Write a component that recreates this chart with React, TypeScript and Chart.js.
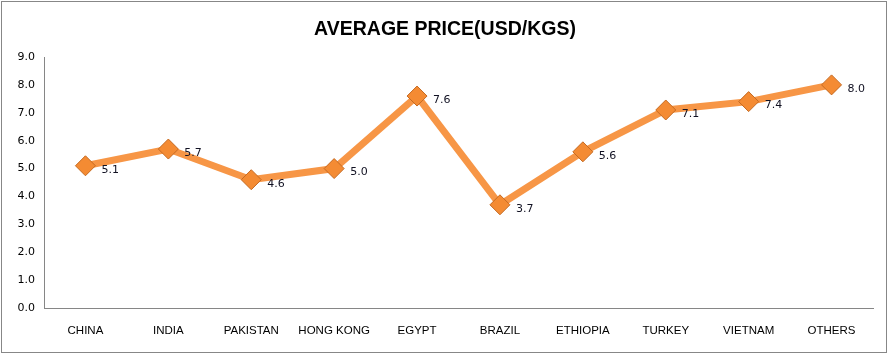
import React, { useEffect, useRef } from "react";
import { Chart, registerables } from "chart.js";

Chart.register(...registerables);

const categories = ["CHINA", "INDIA", "PAKISTAN", "HONG KONG", "EGYPT", "BRAZIL", "ETHIOPIA", "TURKEY", "VIETNAM", "OTHERS"];
const prices = [5.1, 5.7, 4.6, 5.0, 7.6, 3.7, 5.6, 7.1, 7.4, 8.0];
const titleText = "AVERAGE PRICE(USD/KGS)";

const W = 889;
const H = 354;

const framePlugin = {
  id: "frame",
  beforeDraw(chart: any) {
    const ctx = chart.ctx;
    ctx.save();
    ctx.fillStyle = "#ffffff";
    ctx.fillRect(0, 0, chart.width, chart.height);
    ctx.strokeStyle = "#878787";
    ctx.lineWidth = 1;
    ctx.strokeRect(1.5, 1.5, 885, 351);
    ctx.fillStyle = "#000000";
    ctx.font = "bold 19.5px 'Liberation Sans', Arial, sans-serif";
    ctx.textAlign = "center";
    ctx.textBaseline = "middle";
    ctx.fillText(titleText, 445, 30);
    ctx.restore();
  },
};

const labelPlugin = {
  id: "dataLabels",
  afterDatasetsDraw(chart: any) {
    const ctx = chart.ctx;
    const meta = chart.getDatasetMeta(0);
    ctx.save();
    ctx.font = "11px 'DejaVu Sans', Tahoma, sans-serif";
    ctx.fillStyle = "#111122";
    ctx.textAlign = "left";
    ctx.textBaseline = "middle";
    meta.data.forEach((pt: any, i: number) => {
      const v = chart.data.datasets[0].data[i] as number;
      ctx.fillText(v.toFixed(1), pt.x + 16, pt.y + 4);
    });
    ctx.restore();
  },
};

export default function App() {
  const ref = useRef<HTMLCanvasElement>(null);
  useEffect(() => {
    if (!ref.current) return;
    const chart = new Chart(ref.current, {
      type: "line",
      data: {
        labels: categories,
        datasets: [
          {
            data: prices,
            borderColor: "#F79646",
            borderWidth: 7,
            pointStyle: "rectRot",
            pointRadius: 10,
            pointHoverRadius: 10,
            pointBackgroundColor: "#F48B33",
            pointBorderColor: "#C56A22",
            pointBorderWidth: 1,
            tension: 0,
          },
        ],
      },
      plugins: [framePlugin, labelPlugin],
      options: {
        animation: false,
        responsive: false,
        maintainAspectRatio: false,
        events: [],
        layout: { padding: { top: 57, right: 16, bottom: 0, left: 0 } },
        plugins: {
          legend: { display: false },
          title: { display: false },
          tooltip: { enabled: false },
        },
        scales: {
          x: {
            offset: true,
            grid: { display: false, drawTicks: false },
            border: { display: true, color: "#868686", width: 1 },
            ticks: {
              color: "#000000",
              padding: 16,
              maxRotation: 0,
              autoSkip: false,
              font: { family: "'Liberation Sans', Arial, sans-serif", size: 11.5 },
            },
            afterFit(scale: any) {
              scale.height = 46;
            },
          },
          y: {
            min: 0,
            max: 9,
            grid: { display: false, drawTicks: false },
            border: { display: true, color: "#868686", width: 1 },
            ticks: {
              stepSize: 1,
              color: "#000000",
              padding: 9,
              font: { family: "'DejaVu Sans', Tahoma, sans-serif", size: 11 },
              callback: (v: any) => Number(v).toFixed(1),
            },
            afterFit(scale: any) {
              scale.width = 44;
            },
          },
        },
      },
    });
    return () => chart.destroy();
  }, []);
  return (
    <div style={{ position: "absolute", left: 0, top: 0, width: W, height: H, background: "#fff" }}>
      <canvas ref={ref} width={W} height={H} style={{ width: W, height: H, display: "block" }} />
    </div>
  );
}
